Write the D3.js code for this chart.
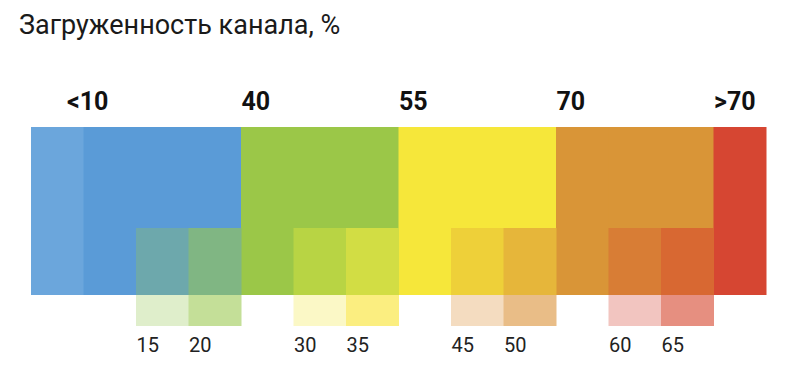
<!DOCTYPE html>
<html>
<head>
<meta charset="utf-8">
<script src="https://cdn.jsdelivr.net/npm/d3@7"></script>
<style>
  body { margin: 0; background: #fff; }
  svg { display: block; font-family: Roboto, "Noto Sans", sans-serif; }
</style>
</head>
<body>
<div id="chart"></div>
<script>
var title = "Загруженность канала, %"

// one entry per 5% step, left to right
var steps = ["<10", "10", "15", "20", "40", "30", "35", "55", "45", "50", "70", "60", "65", ">70"]
var mainColors = ["#6ba6dc", "#5a9bd7", "#5a9bd7", "#5a9bd7", "#9bc748", "#9bc748", "#9bc748",
                  "#f6e73a", "#f6e73a", "#f6e73a", "#d99537", "#d99537", "#d99537", "#d64632"]
var lowerColors = [null, null, "#6da8ac", "#80b683", null, "#b8d444", "#d2dd44",
                   null, "#eed039", "#e6b63a", null, "#d87d35", "#d86832", null]
var belowColors = [null, null, "#dfeecb", "#c4df98", null, "#fbf8c6", "#fbee80",
                   null, "#f4dcc0", "#e9bd87", null, "#f2c5c0", "#e68f80", null]

var topLabels = [
  {step: 0, text: "<10"},
  {step: 4, text: "40"},
  {step: 7, text: "55"},
  {step: 10, text: "70"},
  {step: 13, text: ">70"}
]
var bottomLabels = [
  {step: 2, text: "15"}, {step: 3, text: "20"},
  {step: 5, text: "30"}, {step: 6, text: "35"},
  {step: 8, text: "45"}, {step: 9, text: "50"},
  {step: 11, text: "60"}, {step: 12, text: "65"}
]

function drawChart() {
  var dimensions = {
    width: 801,
    height: 377,
    barLeft: 31,
    barRight: 766,
    barTop: 127,
    lowerTop: 228,
    barBottom: 295,
    belowBottom: 326
  }

  var wrapper = d3.select("#chart")
    .append("svg")
    .attr("width", dimensions.width)
    .attr("height", dimensions.height)

  var xScale = d3.scaleBand()
    .domain(d3.range(steps.length))
    .range([dimensions.barLeft, dimensions.barRight])
    .padding(0)

  wrapper.append("text")
    .attr("x", 19)
    .attr("y", 34)
    .attr("font-size", 27)
    .attr("fill", "#1a1a1a")
    .text(title)

  var cells = wrapper.append("g")

  // full height columns
  cells.selectAll(".main")
    .data(mainColors).enter()
    .append("rect")
    .attr("class", "main")
    .attr("x", (d, i) => xScale(i))
    .attr("width", xScale.bandwidth() + 0.5)
    .attr("y", dimensions.barTop)
    .attr("height", dimensions.barBottom - dimensions.barTop)
    .attr("fill", d => d)

  // lower blocks inside the bar
  cells.selectAll(".lower")
    .data(lowerColors.map((c, i) => ({c: c, i: i})).filter(d => d.c)).enter()
    .append("rect")
    .attr("class", "lower")
    .attr("x", d => xScale(d.i))
    .attr("width", xScale.bandwidth() + 0.5)
    .attr("y", dimensions.lowerTop)
    .attr("height", dimensions.barBottom - dimensions.lowerTop)
    .attr("fill", d => d.c)

  // pale strip under the bar
  cells.selectAll(".below")
    .data(belowColors.map((c, i) => ({c: c, i: i})).filter(d => d.c)).enter()
    .append("rect")
    .attr("class", "below")
    .attr("x", d => xScale(d.i))
    .attr("width", xScale.bandwidth() + 0.5)
    .attr("y", dimensions.barBottom)
    .attr("height", dimensions.belowBottom - dimensions.barBottom)
    .attr("fill", d => d.c)

  wrapper.selectAll(".top-label")
    .data(topLabels).enter()
    .append("text")
    .attr("class", "top-label")
    .attr("x", d => d.step == 0 ? xScale(d.step) + 36 : xScale(d.step) + 0.5)
    .attr("y", 110)
    .attr("font-size", 25)
    .attr("font-weight", "bold")
    .attr("fill", "#111")
    .text(d => d.text)

  wrapper.selectAll(".bottom-label")
    .data(bottomLabels).enter()
    .append("text")
    .attr("class", "bottom-label")
    .attr("x", d => xScale(d.step) + 0.5)
    .attr("y", 352)
    .attr("font-size", 20)
    .attr("fill", "#222")
    .text(d => d.text)
}
drawChart();
</script>
</body>
</html>
